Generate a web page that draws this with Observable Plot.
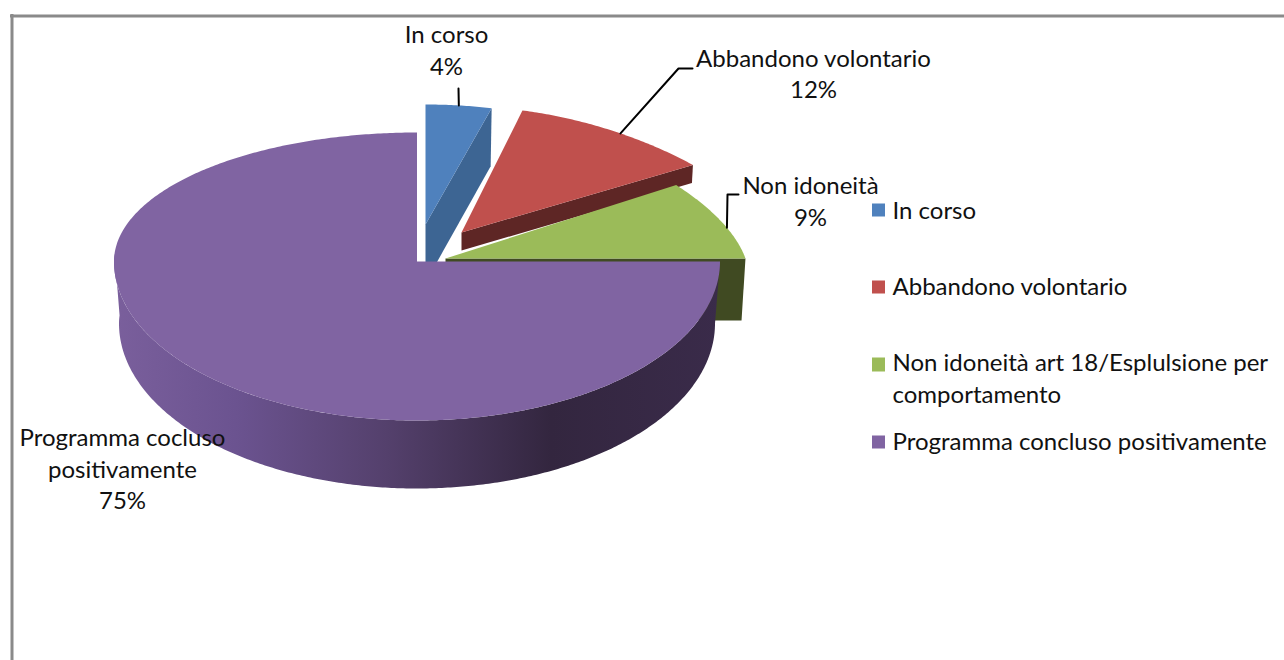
<!DOCTYPE html>
<html><head><meta charset="utf-8">
<style>html,body{margin:0;padding:0;background:#fff}svg{display:block}</style>
<script src="https://cdn.jsdelivr.net/npm/d3@7"></script>
<script src="https://cdn.jsdelivr.net/npm/@observablehq/plot@0.6"></script>
</head><body>
<script>
const categories = ["In corso","Abbandono volontario","Non idoneità art 18/Esplulsione per\ncomportamento","Programma concluso positivamente"];
const dataLabels = ["In corso","Abbandono volontario","Non idoneità","Programma cocluso\npositivamente"];
const values = [4,12,9,75];
const colors = ["#4f81bd","#c0504d","#9bbb59","#8064a2"];
const sideColors = ["#3d6593","#5e2625","#404a22","url(#purpleSide)"];

const font = "Lato, 'Open Sans', sans-serif";
const arcs = d3.pie().sort(null).value(d=>d)(values);
const geom = [
  {cx:425,cy:224,rx:266,k:0,ryB:120,ryF:120,depth:58},
  {cx:461,cy:232,rx:310,k:67,ryB:126,ryF:126,depth:18},
  {cx:445,cy:258,rx:300,k:50,ryB:137,ryF:137,depth:62},
  {cx:416.5,cy:261,rx:303,k:0,ryB:129,ryF:159,depth:62}
];
function pt(g,t,inset=0){
  const c=Math.cos(t), s=Math.sin(t);
  const r=(g.rx-g.k*c)-inset;
  const ry=c>=0?g.ryB:g.ryF;
  return {x:g.cx+r*s,y:g.cy-ry*c};
}
function sweep(g,a,b,inset=0,dy=0){
  const n=Math.max(2,Math.ceil(Math.abs(b-a)/0.01));
  return d3.range(n+1).map(i=>{const p=pt(g,a+(b-a)*i/n,inset);return {x:p.x,y:p.y+dy};});
}
const area = (pts,fill)=>Plot.line(pts,{x:"x",y:"y",fill,stroke:null,curve:"linear"});
const marks = [];
marks.push(()=>{
  const s=d3.create("svg:defs");
  const g=s.append("linearGradient").attr("id","purpleSide").attr("gradientUnits","userSpaceOnUse")
    .attr("x1",114).attr("x2",720).attr("y1",0).attr("y2",0);
  [[0,"#7a5f9c"],[0.2,"#6b5390"],[0.45,"#54406c"],[0.72,"#33263f"],[1,"#3a2b4a"]]
    .forEach(([o,c])=>g.append("stop").attr("offset",o).attr("stop-color",c));
  return s.node();
});
marks.push(Plot.ruleY([15.5],{x1:10,x2:1284,stroke:"#8a8a8a",strokeWidth:3}));
marks.push(Plot.ruleX([11.5],{y1:14,y2:660,stroke:"#8a8a8a",strokeWidth:3}));
arcs.forEach((a,i)=>{
  const g=geom[i];
  if(i<3){
    const e=pt(g,a.endAngle);
    marks.push(area([{x:g.cx,y:g.cy},e,{x:e.x-(i==2?4:1),y:e.y+g.depth},{x:g.cx,y:g.cy+g.depth}],sideColors[i]));
    marks.push(area([{x:g.cx,y:g.cy},...sweep(g,a.startAngle,a.endAngle)],colors[i]));
  } else {
    const t0=a.startAngle, t1=Math.PI*1.52;
    const top=sweep(g,t0,t1);
    const bot=sweep({...g,cy:g.cy+g.depth,ryF:g.ryF+6},t0,t1,5).reverse();
    marks.push(area([...top,...bot],sideColors[i]));
    marks.push(area([{x:g.cx,y:g.cy},...sweep(g,a.startAngle,a.endAngle)],colors[i]));
  }
});
const leaderFrac=[0.5,0.55,0.6];
const leaderAt=i=>{const a=arcs[i];return pt(geom[i],a.startAngle+(a.endAngle-a.startAngle)*leaderFrac[i]);};
const leaderEnds=[[[458,88]],[[678,68],[692,68]],[[727,194],[738,194]]];
leaderEnds.forEach((e,i)=>{
  const s=leaderAt(i);
  marks.push(Plot.line([s,...e.map(([x,y])=>({x,y}))],{x:"x",y:"y",stroke:"#000",strokeWidth:2,curve:"linear"}));
});
const labelPos=[[446,51.5],[813,75],[810,202.5],[122,470]];
marks.push(Plot.text(values.map((v,i)=>`${dataLabels[i]}\n${v}%`),{
  text:d=>d,x:(d,i)=>labelPos[i][0],y:(d,i)=>labelPos[i][1]-3,
  fontSize:24,fontFamily:font,fill:"#111",lineHeight:1.31,textAnchor:"middle",lineAnchor:"middle"}));
const legY=[210,287,364,442], legTextY=[211,287,379.5,442];
marks.push(Plot.rect(categories,{x1:()=>872,x2:()=>885,y1:(d,i)=>legY[i]-6.5,y2:(d,i)=>legY[i]+6.5+(i==2?1:0),fill:(d,i)=>colors[i]}));
marks.push(Plot.text(categories,{text:d=>d,x:()=>892,y:(d,i)=>legTextY[i]-3,
  fontSize:24,fontFamily:font,fill:"#111",lineHeight:1.31,textAnchor:"start",lineAnchor:"middle"}));

document.body.append(Plot.plot({
  width:1284,height:660,margin:0,
  x:{domain:[0,1284],range:[0,1284],axis:null},
  y:{domain:[0,660],range:[0,660],axis:null},
  style:{background:"#fff"},
  marks
}));
</script>
</body></html>
